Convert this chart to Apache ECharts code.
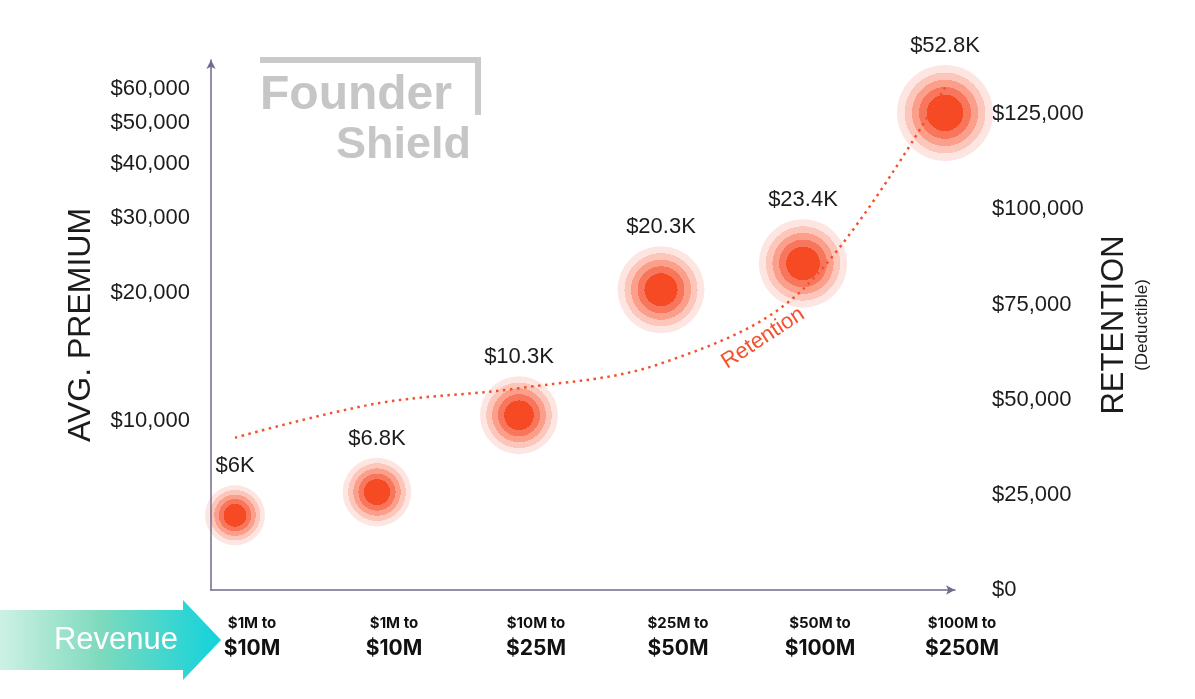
<!DOCTYPE html>
<html>
<head>
<meta charset="utf-8">
<script src="https://cdn.jsdelivr.net/npm/echarts@6/dist/echarts.min.js"></script>
<style>html,body{margin:0;padding:0;background:#fff;}#chart{width:1195px;height:699px;}</style>
</head>
<body>
<div id="chart"></div>
<script>
// ---- data ----
const revenueFrom = ['$1M', '$1M', '$10M', '$25M', '$50M', '$100M'];
const revenueTo = ['$10M', '$10M', '$25M', '$50M', '$100M', '$250M'];
const avgPremium = [6000, 6800, 10300, 20300, 23400, 52800];
const retention = [40000, 49000, 53000, 59500, 79000, 132000];
const premiumTicks = [10000, 20000, 30000, 40000, 50000, 60000];
const retentionTicks = [0, 25000, 50000, 75000, 100000, 125000];

// ---- styles ----
const axisColor = '#6e6c8c';
const red = '#f4512c';
const txt = '#1c1c1c';
const font = '"Liberation Sans", Arial, sans-serif';
const minP = Math.min(...avgPremium), maxP = Math.max(...avgPremium);

const ringGradient = {
  type: 'radial', x: 0.5, y: 0.5, r: 0.5,
  colorStops: [
    { offset: 0, color: '#f54a23' }, { offset: 0.38, color: '#f54a23' },
    { offset: 0.38, color: '#f8765b' }, { offset: 0.54, color: '#f8765b' },
    { offset: 0.54, color: '#fb9e8a' }, { offset: 0.69, color: '#fb9e8a' },
    { offset: 0.69, color: '#fdc6ba' }, { offset: 0.84, color: '#fdc6ba' },
    { offset: 0.84, color: '#fde6e1' }, { offset: 1, color: '#fde6e1' }
  ]
};

const fmtMoney = v => '$' + v.toLocaleString('en-US');

const chart = echarts.init(document.getElementById('chart'), null, { renderer: 'canvas' });
chart.setOption({
  backgroundColor: '#ffffff',
  animation: false,
  textStyle: { fontFamily: font },
  grid: { left: 211, right: 240, top: 60, bottom: 109, containLabel: false, outerBoundsMode: 'none' },
  xAxis: {
    type: 'value', min: -0.169, max: 5.0704,
    splitLine: { show: false },
    axisTick: { show: false },
    axisLine: { show: true, onZero: false, lineStyle: { color: axisColor, width: 1.5 }, symbol: ['none', 'arrow'], symbolSize: [7, 9] },
    axisLabel: {
      customValues: revenueFrom.map((_, i) => i),
      margin: 21,
      padding: [0, 0, 0, 34],
      formatter: v => { const i = Math.round(v); return '{a|' + revenueFrom[i] + ' to}\n{b|' + revenueTo[i] + '}'; },
      rich: {
        a: { fontFamily: 'Inter, sans-serif', fontWeight: 'bold', fontSize: 15, lineHeight: 24, color: '#111', align: 'center' },
        b: { fontFamily: 'Inter, sans-serif', fontWeight: 'bold', fontSize: 21, lineHeight: 28, color: '#111', align: 'center' }
      }
    }
  },
  yAxis: [
    {
      type: 'value', min: 3.6026, max: 4.8468, position: 'left', z: 5,
      name: 'AVG. PREMIUM', nameLocation: 'middle', nameGap: 114, nameRotate: 90,
      nameTextStyle: { fontSize: 32, color: txt, fontFamily: font },
      splitLine: { show: false },
      axisTick: { show: false },
      axisLine: { show: true, onZero: false, lineStyle: { color: axisColor, width: 1.5 }, symbol: ['none', 'arrow'], symbolSize: [7, 9] },
      axisLabel: {
        customValues: premiumTicks.map(v => Math.log10(v)),
        formatter: v => fmtMoney(Math.round(Math.pow(10, v) / 1000) * 1000),
        fontSize: 22, color: txt, margin: 21
      }
    },
    {
      type: 'value', min: 0, max: 139210, position: 'right',
      name: '{t|RETENTION}\n{d|(Deductible)}', nameLocation: 'middle', nameGap: 142, nameRotate: 90,
      nameTextStyle: {
        rich: {
          t: { fontSize: 31, color: txt, lineHeight: 34, fontFamily: font, align: 'center' },
          d: { fontSize: 17, color: txt, lineHeight: 22, fontFamily: font, align: 'center' }
        }
      },
      splitLine: { show: false },
      axisTick: { show: false },
      axisLine: { show: false, onZero: false },
      axisLabel: {
        customValues: retentionTicks,
        formatter: v => fmtMoney(v),
        fontSize: 22, color: txt, margin: 37
      }
    }
  ],
  series: [
    {
      type: 'scatter', name: 'Avg. Premium', yAxisIndex: 0, z: 2,
      data: avgPremium.map((v, i) => [i, Math.log10(v), v]),
      symbol: 'circle',
      symbolSize: val => 60 + 36 * Math.sqrt(Math.log(val[2] / minP) / Math.log(maxP / minP)),
      itemStyle: { color: ringGradient, opacity: 1 },
      label: {
        show: true, position: 'top', distance: 8,
        formatter: p => '$' + (p.value[2] / 1000) + 'K',
        fontSize: 22, color: txt, fontFamily: font
      },
      emphasis: { disabled: true }
    },
    {
      type: 'line', name: 'Retention', yAxisIndex: 1, z: 4,
      data: retention.map((v, i) => [i, v]),
      smooth: 0.35, showSymbol: false, symbol: 'none',
      lineStyle: { color: red, width: 2.5, type: [2.5, 4.5] },
      emphasis: { disabled: true }
    }
  ],
  graphic: [
    // Founder Shield watermark
    { type: 'rect', shape: { x: 260, y: 57, width: 221, height: 6 }, style: { fill: '#cacaca' }, z: 0 },
    { type: 'rect', shape: { x: 475, y: 57, width: 6, height: 58 }, style: { fill: '#cacaca' }, z: 0 },
    { type: 'text', x: 260, y: 96, style: { text: 'Founder', fill: '#c6c6c6', font: 'bold 48px "Liberation Sans", Arial, sans-serif', textAlign: 'left', textVerticalAlign: 'middle' }, z: 0 },
    { type: 'text', x: 471, y: 146, style: { text: 'Shield', fill: '#c6c6c6', font: 'bold 45px "Liberation Sans", Arial, sans-serif', textAlign: 'right', textVerticalAlign: 'middle' }, z: 0 },
    // Revenue arrow
    {
      type: 'polygon',
      shape: { points: [[0, 610], [183, 610], [183, 600], [221, 640], [183, 680], [183, 670], [0, 670]] },
      style: {
        fill: {
          type: 'linear', x: 0, y: 0, x2: 1, y2: 0,
          colorStops: [
            { offset: 0, color: '#cdf1e5' },
            { offset: 0.45, color: '#7fdabd' },
            { offset: 1, color: '#10d3dc' }
          ]
        }
      }
    },
    { type: 'text', x: 116, y: 640, style: { text: 'Revenue', fill: '#ffffff', font: '31px "Liberation Sans", Arial, sans-serif', textAlign: 'center', textVerticalAlign: 'middle' } },
    // Retention line label
    { type: 'text', x: 763, y: 338, rotation: 0.58, style: { text: 'Retention', fill: red, font: '22px "Liberation Sans", Arial, sans-serif', textAlign: 'center', textVerticalAlign: 'middle' } }
  ]
});
</script>
</body>
</html>
